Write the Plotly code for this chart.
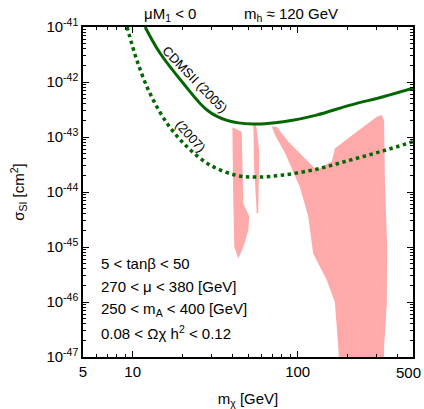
import plotly.graph_objects as go

# CDMSII limits (neutralino mass in GeV, cross section in cm^2)
cdms05_m = [11.9, 14.6, 20.2, 28.2, 37.3, 53.6, 81.9, 130, 208, 330, 500]
cdms05_s = [1.0e-41, 3.4e-42, 9.6e-43, 3.1e-43, 2.0e-43, 1.72e-43, 1.9e-43,
            2.5e-43, 3.8e-43, 5.4e-43, 7.7e-43]

cdms07_m = [9.25, 10.6, 12.7, 16.1, 21.3, 29.4, 42.7, 56.5, 81.9, 130, 208, 330, 500]
cdms07_s = [1.0e-41, 2.5e-42, 6.3e-43, 1.8e-43, 6.7e-44, 3.1e-44, 2.0e-44,
            1.87e-44, 2.04e-44, 2.6e-44, 3.8e-44, 5.6e-44, 8.2e-44]

# allowed regions (pink)
r1_m = [40.2, 45.8, 46.9, 50.9, 50.2, 46.9, 43.7, 41.3, 40.7]
r1_s = [1.5e-43, 1.25e-43, 6.2e-45, 3.6e-45, 2.0e-45, 1.0e-45, 6.2e-46, 1.0e-45, 7.2e-45]

r2_m = [53.9, 55.9, 58.5, 57.7, 56.5, 54.4]
r2_s = [1.8e-43, 1.8e-43, 5.4e-44, 4.1e-45, 4.1e-45, 2.9e-44]

r3_m = [69.6, 74.6, 87.8, 118.8, 130, 161, 168, 228, 301, 323, 334, 338, 349, 347,
        334, 334, 179, 168, 150, 124, 116, 103, 94, 83.8, 72.9]
r3_s = [1.54e-43, 1.54e-43, 8.2e-44, 3.3e-44, 2.5e-44, 3.6e-44, 6.2e-44, 1.25e-43,
        2.3e-43, 2.5e-43, 2.0e-43, 1.44e-44, 1.0e-45, 9.5e-47, 1.54e-47, 8e-48,
        8e-48, 1.0e-46, 2.5e-46, 7.7e-46, 3.6e-45, 1.25e-44, 2.3e-44, 5.1e-44, 1.09e-43]

y_ticks = [1e-47, 1e-46, 1e-45, 1e-44, 1e-43, 1e-42, 1e-41]
y_labels = ["10<sup>-47</sup>", "10<sup>-46</sup>", "10<sup>-45</sup>", "10<sup>-44</sup>",
            "10<sup>-43</sup>", "10<sup>-42</sup>", "10<sup>-41</sup>"]
x_ticks = [5, 10, 100, 500]
x_labels = ["5", "10", "100", "500"]

info_lines = ["5 < tanβ < 50",
              "270 < μ < 380 [GeV]",
              "250 < m<sub>A</sub> < 400 [GeV]",
              "0.08 < Ωχ h<sup>2</sup> < 0.12"]

pink = "#ffaaaa"
green = "#036603"
font = "Liberation Sans"

fig = go.Figure()
for xs, ys in [(r1_m, r1_s), (r2_m, r2_s), (r3_m, r3_s)]:
    fig.add_trace(go.Scatter(x=xs, y=ys, fill="toself", mode="lines",
                             line=dict(width=0, color=pink), fillcolor=pink,
                             hoverinfo="skip"))

fig.add_trace(go.Scatter(x=cdms05_m, y=cdms05_s, mode="lines",
                         line=dict(color=green, width=3, shape="spline")))
fig.add_trace(go.Scatter(x=cdms07_m, y=cdms07_s, mode="lines",
                         line=dict(color=green, width=3.5, shape="spline",
                                   dash="3.5px,3.5px")))

# minor ticks
minor_x = [6, 7, 8, 9, 20, 30, 40, 50, 60, 70, 80, 90, 200, 300, 400]
minor_y = [k * 10.0 ** e for e in range(-47, -41) for k in range(2, 10)]

# the last x label would spill past the page edge, it is drawn as a note below
fig.update_xaxes(type="log", range=[0.69895, 2.69899], tickvals=x_ticks,
                 ticktext=x_labels[:-1] + [""],
                 ticks="inside", ticklen=6, tickcolor="black", mirror="ticks",
                 showline=True, linecolor="black", linewidth=1.5, showgrid=False,
                 zeroline=False, automargin=False,
                 tickfont=dict(size=15, color="black"),
                 minor=dict(tickvals=minor_x, ticks="inside", ticklen=3, tickcolor="black"),
                 title=dict(text="m<sub>χ</sub> [GeV]", font=dict(size=15, color="black"),
                            standoff=21))
fig.update_yaxes(type="log", range=[-47.00002, -40.99998], tickvals=y_ticks, ticktext=y_labels,
                 ticks="inside", ticklen=6, tickcolor="black", mirror="ticks",
                 showline=True, linecolor="black", linewidth=1.5, showgrid=False,
                 zeroline=False, automargin=False, ticklabeloverflow="allow",
                 tickfont=dict(size=15, color="black"),
                 minor=dict(tickvals=minor_y, ticks="inside", ticklen=3, tickcolor="black"),
                 title=dict(text="σ<sub>SI</sub> [cm<sup>2</sup>]",
                            font=dict(size=15, color="black"), standoff=18))


def px(x, y):
    # pixel position in the page -> paper coordinates
    return (x - 83) / 330, (357 - y) / 330


def note(x, y, text, size=15, angle=0, xanchor="center"):
    xp, yp = px(x, y)
    fig.add_annotation(xref="paper", yref="paper", x=xp, y=yp, text=text,
                       textangle=angle, showarrow=False, xanchor=xanchor,
                       yanchor="middle", font=dict(size=size, color="black", family=font))


note(423, 372, x_labels[-1], xanchor="right")
note(170, 14, "μM<sub>1</sub> < 0")
note(291, 14, "m<sub>h</sub> ≈ 120 GeV")
note(195, 79, "CDMSII (2005)", size=13, angle=46)
note(191, 136, "(2007)", size=13, angle=48)
for i, line in enumerate(info_lines):
    note(99, 263 + 23.3 * i, line, xanchor="left")

fig.update_layout(width=424, height=409, margin=dict(l=83, r=11, t=27, b=52),
                  plot_bgcolor="white", paper_bgcolor="white", showlegend=False,
                  font=dict(family=font, size=15, color="black"))

fig.write_html("out.html", config={"displayModeBar": False},
               post_script="document.body.style.margin='0';")
